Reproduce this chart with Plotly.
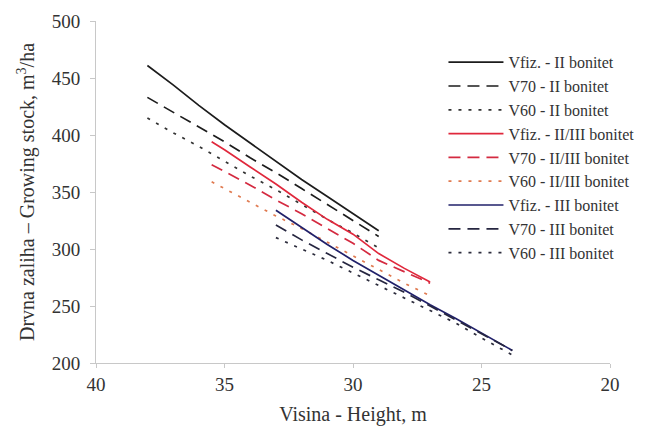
import plotly.graph_objects as go

# Heights (m) for each site class
h_II = [38, 37, 36, 35, 34, 33, 32, 31, 30, 29]
h_IIIII = [35.5, 35, 34, 33, 32, 31, 30, 29, 28, 27]
h_III = [33, 32, 31, 30, 29, 28, 27, 26, 25, 23.8]

# Growing stock values (m3/ha)
vfiz_II = [461, 444, 426, 409, 393, 377, 361, 346, 331, 316]
v70_II = [433, 420, 407, 394, 380, 367, 353, 339, 325, 311]
v60_II = [415, 402, 390, 377, 364, 352, 339, 326, 314, 301]

vfiz_IIIII = [394, 387, 372, 357, 341, 326, 313, 296, 283, 271]
v70_IIIII = [374, 368, 356, 343, 331, 318, 305, 290, 280, 270]
v60_IIIII = [359, 353, 341, 329, 318, 306, 294, 282, 270, 259]

vfiz_III = [334, 319, 304, 290, 277, 264, 251, 239, 226, 211]
v70_III = [321, 308, 296, 284, 273, 262, 250, 238, 226, 211]
v60_III = [310, 300, 290, 279, 268, 257, 246, 235, 222, 207]

names = ["Vfiz. - II bonitet", "V70 - II bonitet", "V60 - II bonitet",
         "Vfiz. - II/III bonitet", "V70 - II/III bonitet", "V60 - II/III bonitet",
         "Vfiz. - III bonitet", "V70 - III bonitet", "V60 - III bonitet"]

series = [
    (h_II, vfiz_II, "#1c1c1c", "solid"),
    (h_II, v70_II, "#1c1c1c", "12px,7px"),
    (h_II, v60_II, "#333333", "3px,7px"),
    (h_IIIII, vfiz_IIIII, "#e0283c", "solid"),
    (h_IIIII, v70_IIIII, "#d42a40", "12px,7px"),
    (h_IIIII, v60_IIIII, "#e07a50", "3px,7px"),
    (h_III, vfiz_III, "#20206a", "solid"),
    (h_III, v70_III, "#262640", "12px,7px"),
    (h_III, v60_III, "#2c2c3c", "3px,7px"),
]

fig = go.Figure()
for name, (hx, vy, col, dash) in zip(names, series):
    fig.add_trace(go.Scatter(x=hx, y=vy, mode="lines", name=name,
                             line=dict(color=col, width=1.7, dash=dash)))

font_family = "Liberation Serif, Times New Roman, serif"
fig.update_layout(
    width=652, height=419,
    margin=dict(l=88, r=50, t=13, b=64, autoexpand=False),
    paper_bgcolor="white", plot_bgcolor="white",
    font=dict(family=font_family, color="#333333", size=18),
    showlegend=True,
    legend=dict(x=0.676, y=0.929, xanchor="left", yanchor="top",
                font=dict(family=font_family, size=16, color="#333333"),
                bgcolor="rgba(0,0,0,0)", itemwidth=55),
)
fig.update_xaxes(range=[40, 20], dtick=5, tick0=20, showgrid=False, zeroline=False,
                 showline=True, linecolor="#c8c8c8", linewidth=1, automargin=False,
                 ticks="outside", ticklen=4, tickcolor="#c8c8c8",
                 tickfont=dict(size=19, color="#333333"),
                 title=dict(text="Visina - Height, m", font=dict(size=20, color="#333333"), standoff=13))
fig.update_yaxes(range=[200, 500], dtick=50, showgrid=False, zeroline=False,
                 showline=True, linecolor="#c8c8c8", linewidth=1, automargin=False,
                 ticks="outside", ticklen=5, tickcolor="#c8c8c8", ticklabelstandoff=6,
                 tickfont=dict(size=19, color="#333333"),
                 title=dict(text="Drvna zaliha – Growing stock, m<sup>3</sup>/ha",
                            font=dict(size=20, color="#333333"), standoff=11))

fig.write_html("out.html")
